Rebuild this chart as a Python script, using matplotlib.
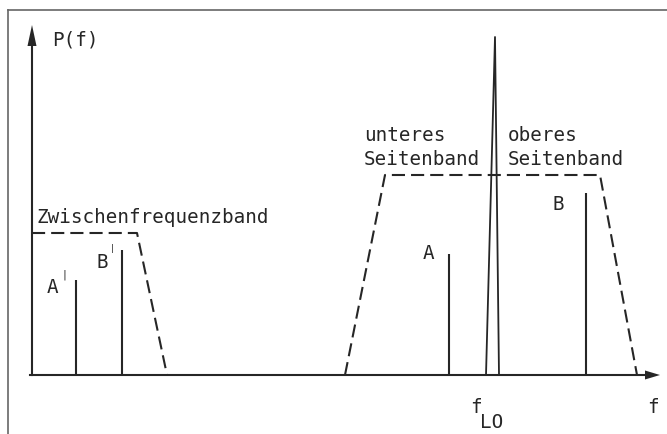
import numpy as np
import matplotlib.pyplot as plt

# Spectrum sketch (values in drawing units, origin = axis crossing)
# ----------------------------------------------------------------------------
if_band_f = [0, 105, 135]
if_band_p = [142, 142, 0]

rf_band_f = [313, 353, 568, 605]
rf_band_p = [0, 200, 200, 0]

line_names = ["A'", "B'", "A", "B"]
line_f = [44, 90, 417, 554]
line_p = [95, 125, 121, 182]

lo_f = [454, 463, 467]
lo_p = [0, 338, 0]

ink = "#262626"
font = "DejaVu Sans Mono"
fs = 13.9

fig = plt.figure(figsize=(6.67, 4.34), dpi=100)
ax = fig.add_axes([0, 0, 1, 1], frameon=False, xticks=[], yticks=[])
ax.set_xlim(-32, 635)
ax.set_ylim(-59, 375)

# Frame (only top and left edges visible)
ax.plot([-24, 635], [365, 365], color="#666666", lw=1.2)
ax.plot([-24, -24], [365, -59], color="#666666", lw=1.2)

# Axes with arrow heads
ax.plot([-2, 616], [0, 0], color=ink, lw=1.5)
ax.plot([0, 0], [0, 332], color=ink, lw=1.5)
ax.fill([613, 628, 613], [-4.5, 0, 4.5], color=ink, lw=0)
ax.fill([-4.5, 0, 4.5], [329, 350, 329], color=ink, lw=0)

# Bands
dash = (0, (6.3, 2.9))
ax.plot(if_band_f, if_band_p, color=ink, lw=1.5, linestyle=dash)
ax.plot(rf_band_f, rf_band_p, color=ink, lw=1.5, linestyle=dash)

# Spectral lines
ax.vlines(line_f, 0, line_p, color=ink, lw=1.5)
ax.plot(lo_f, lo_p, color=ink, lw=1.3)

# Labels
def label(x, y, s, size=fs):
    ax.text(x, y, s, family=font, size=size, color=ink, va="baseline")

label(20, 330, "P(f)")
label(5, 152, "Zwischenfrequenzband")
label(15, 82, "A")
label(65, 107, "B")
# primes drawn as short raised strokes, like the typewriter original
label(30, 97, "|", size=7)
label(78, 124, "|", size=6)
label(391, 116, "A")
label(521, 165, "B")
label(332, 234, "unteres")
label(332, 210, "Seitenband")
label(476, 234, "oberes")
label(476, 210, "Seitenband")
label(438, -38, "f")
label(448, -53, "LO")
label(615, -38, "f")

plt.savefig("out.png", dpi=100)
